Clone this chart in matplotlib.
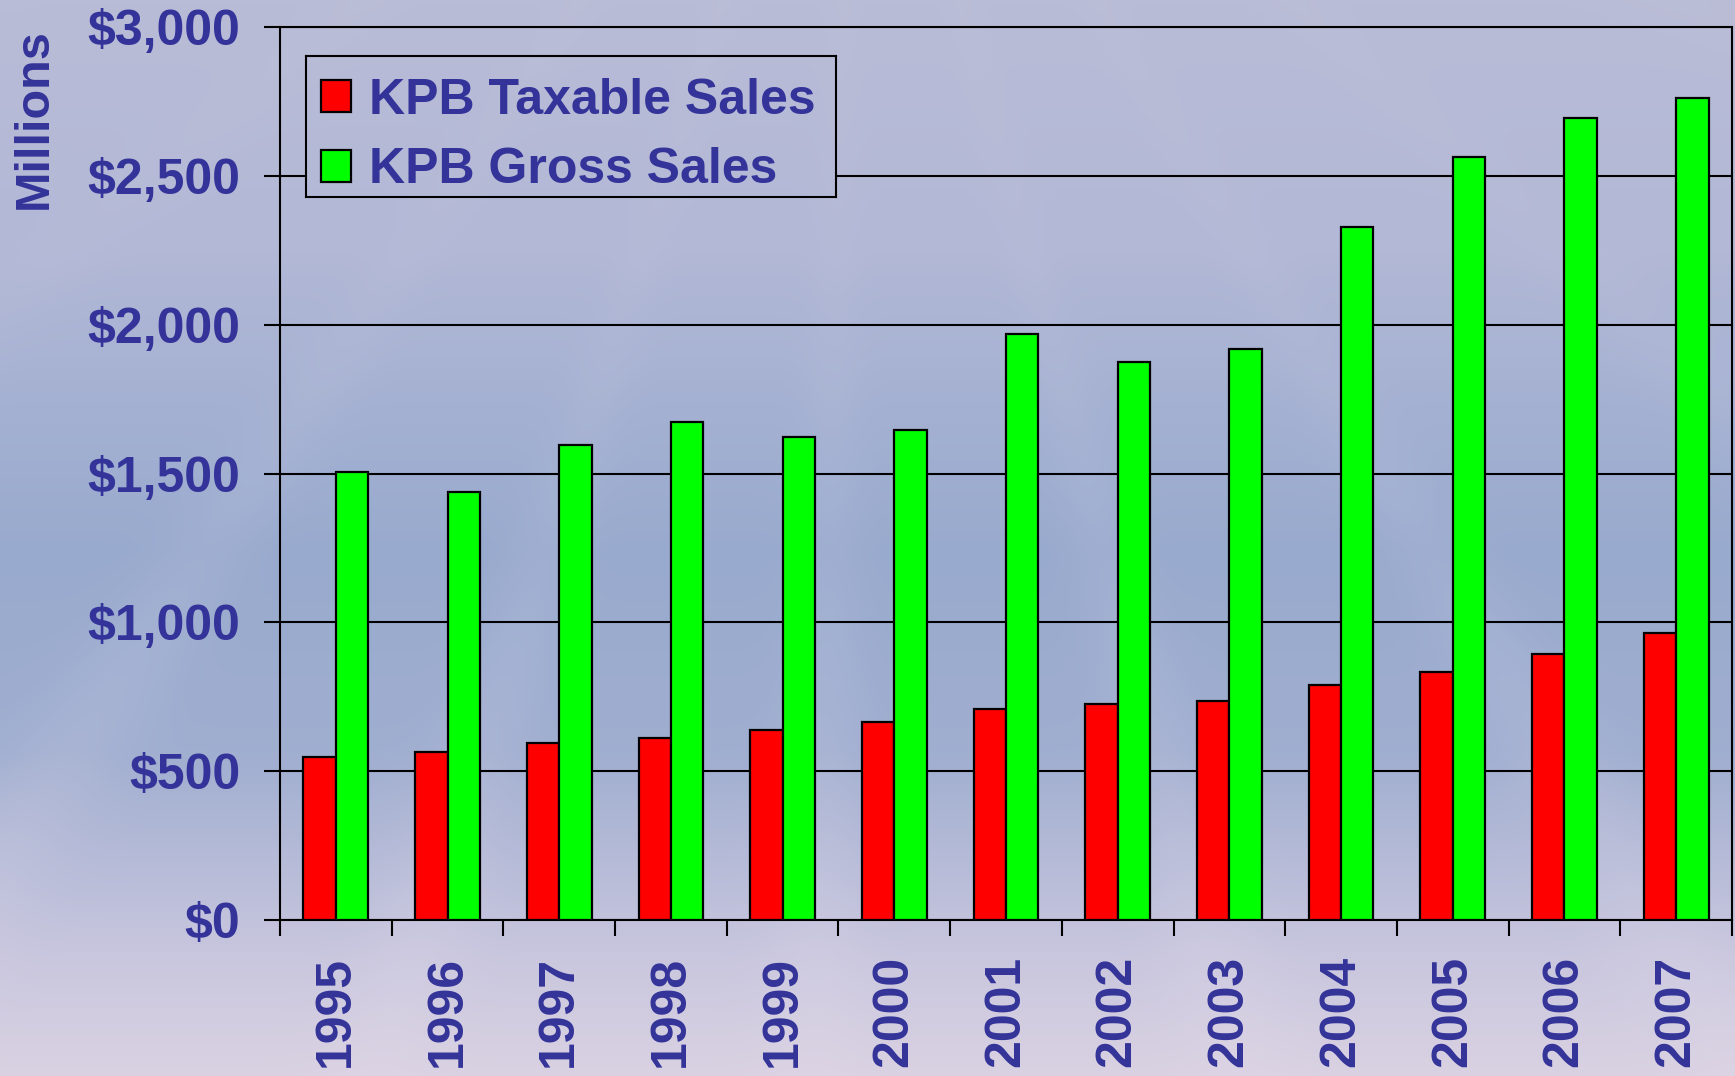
import numpy as np
import matplotlib

matplotlib.use("Agg")
import matplotlib.pyplot as plt
from matplotlib.ticker import FuncFormatter, MultipleLocator

years = ["1995", "1996", "1997", "1998", "1999", "2000", "2001",
         "2002", "2003", "2004", "2005", "2006", "2007"]
taxable = [549, 566, 594, 611, 639, 665, 710, 725, 736, 788, 833, 892, 963]
gross = [1506, 1439, 1595, 1673, 1621, 1647, 1970, 1874, 1918, 2327, 2563, 2694, 2763]
labels = ["KPB Taxable Sales", "KPB Gross Sales"]

navy = "#333399"
plt.rcParams["font.family"] = ["Liberation Sans", "DejaVu Sans"]
plt.rcParams["font.weight"] = "bold"

W, H = 1735, 1076
fig = plt.figure(figsize=(W / 100, H / 100), dpi=100)

# background: vertical gradient with faint sunburst rays
h, w = H // 4, W // 4
yy, xx = np.mgrid[0:h, 0:w] * 4.0
stops_y = [0, 250, 550, 750, 950, 1076]
stops_c = np.array([[185, 188, 214], [178, 184, 214], [152, 170, 206],
                    [160, 174, 208], [200, 198, 222], [218, 210, 226]]) / 255
img = np.zeros((h, w, 3))
for c in range(3):
    img[..., c] = np.interp(yy, stops_y, stops_c[:, c])
ang = np.degrees(np.arctan2(xx - 850, yy + 400))
rays = 0.5 + 0.5 * np.cos(np.radians(ang) * 22 + 0.6)
rays = rays ** 6
light = np.array([232, 222, 236]) / 255
a = (0.18 * rays * np.clip(yy / 1076, 0.2, 1))[..., None]
img = img * (1 - a) + light * a

bg = fig.add_axes([0, 0, 1, 1], zorder=-10)
bg.imshow(img, aspect="auto", extent=(0, W, H, 0), interpolation="bilinear")
bg.set_xlim(0, W)
bg.set_ylim(H, 0)
bg.axis("off")

# plot area in pixels: x 280..1732, y 27..920
ax = fig.add_axes([280 / W, 1 - 920 / H, 1452 / W, 893 / H])
ax.set_facecolor("none")

x = np.arange(len(years))
bw = 0.29
b1 = ax.bar(x - bw / 2, taxable, bw, color="#ff0000", edgecolor="black",
            linewidth=1.6, zorder=3)
b2 = ax.bar(x + bw / 2, gross, bw, color="#00ff00", edgecolor="black",
            linewidth=1.6, zorder=3)

ax.set_xlim(-0.5, len(years) - 0.5)
ax.set_ylim(0, 3000)
ax.yaxis.set_major_locator(MultipleLocator(500))
ax.yaxis.set_major_formatter(FuncFormatter(lambda v, p: f"${v:,.0f}"))
ax.grid(axis="y", color="black", linewidth=1.5, zorder=1)
ax.set_axisbelow(True)

ax.set_xticks(x)
ax.set_xticklabels(years, rotation=90)
ax.set_xticks(np.arange(len(years) + 1) - 0.5, minor=True)
ax.tick_params(axis="x", which="major", length=0, pad=26)
ax.tick_params(axis="x", which="minor", length=11.5, width=1.5, direction="out")
ax.tick_params(axis="y", length=11.5, width=1.5, direction="out", pad=17)
ax.tick_params(labelsize=36, labelcolor=navy)
for lab in ax.get_xticklabels() + ax.get_yticklabels():
    lab.set_fontweight("bold")

for s in ax.spines.values():
    s.set_linewidth(1.5)
    s.set_color("black")

fig.text(12 / W, 1 - 119 / H, "Millions", rotation=90, fontsize=35,
         color=navy, fontweight="bold", va="center", ha="left")

# legend box: its own axes showing the background, so gridlines are hidden
lx0, lx1, ly0, ly1 = 306, 836, 56, 197
lax = fig.add_axes([lx0 / W, 1 - ly1 / H, (lx1 - lx0) / W, (ly1 - ly0) / H],
                   zorder=5)
lax.imshow(img, aspect="auto", extent=(0, W, H, 0), interpolation="bilinear")
lax.set_xlim(lx0, lx1)
lax.set_ylim(ly1, ly0)
lax.set_xticks([])
lax.set_yticks([])
for s in lax.spines.values():
    s.set_linewidth(1.5)
    s.set_color("black")

leg = lax.legend([b1, b2], labels, loc="upper left",
                 bbox_to_anchor=(0, 1 - 7 / (ly1 - ly0)),
                 fontsize=36, frameon=False, handlelength=0.6,
                 handleheight=0.6, handletextpad=0.36, borderpad=0.3,
                 labelspacing=0.47, borderaxespad=0)
for t in leg.get_texts():
    t.set_color(navy)
    t.set_fontweight("bold")

fig.savefig("out.png", dpi=100)
